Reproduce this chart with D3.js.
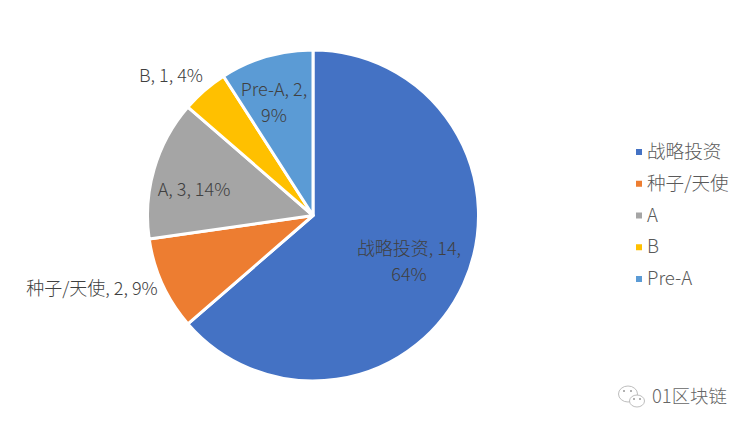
<!DOCTYPE html>
<html><head><meta charset="utf-8">
<script src="https://d3js.org/d3.v7.min.js"></script>
<style>html,body{margin:0;padding:0;background:#fff}svg{display:block}text{font-family:"Noto Sans CJK SC","Noto Sans",sans-serif;font-weight:300}</style>
</head><body><svg id="c" width="750" height="431"></svg>
<script>
const categories=["战略投资","种子/天使","A","B","Pre-A"];
const values=[14,2,3,1,2];
const percents=["64%","9%","14%","4%","9%"];
const colors=["#4472c4","#ed7d31","#a5a5a5","#ffc000","#5b9bd5"];
const svg=d3.select("#c");
const cx=313,cy=215.5,R=165.5;
const pie=d3.pie().sort(null).value(d=>d)(values);
const arc=d3.arc().innerRadius(0).outerRadius(R);
const g=svg.append("g").attr("transform",`translate(${cx},${cy})`);
g.selectAll("path").data(pie).join("path").attr("d",arc)
 .attr("fill",(d,i)=>colors[i]).attr("stroke","#fff").attr("stroke-width",3).attr("stroke-linejoin","round");
const labels=[[[409,250],[409,276]],[[92,290]],[[194,191]],[[171,77]],[[274,91],[274,117]]];
const lines=[[`${categories[0]}, ${values[0]},`,percents[0]],[`${categories[1]}, ${values[1]}, ${percents[1]}`],[`${categories[2]}, ${values[2]}, ${percents[2]}`],[`${categories[3]}, ${values[3]}, ${percents[3]}`],[`${categories[4]}, ${values[4]},`,percents[4]]];
lines.forEach((ls,i)=>ls.forEach((t,j)=>svg.append("text").attr("x",labels[i][j][0]).attr("y",labels[i][j][1]).attr("text-anchor","middle").attr("dominant-baseline","middle").attr("font-size",18).attr("fill","#404040").text(t)));
const ly=d3.scalePoint().domain(categories).range([153,280]);
categories.forEach((c,i)=>{
 svg.append("rect").attr("x",636).attr("y",ly(c)-4).attr("width",6).attr("height",6).attr("fill",colors[i]);
 svg.append("text").attr("x",647).attr("y",ly(c)).attr("dominant-baseline","middle").attr("font-size",18.6).attr("fill","#595959").text(c);
});
const wm=svg.append("g").attr("fill","#fff").attr("stroke","#b5b5b5").attr("stroke-width",0.9);
wm.append("ellipse").attr("cx",628).attr("cy",394).attr("rx",9.5).attr("ry",8);
wm.append("ellipse").attr("cx",637).attr("cy",401).attr("rx",7.5).attr("ry",6);
[[624,391],[631,391],[634,399],[640,399]].forEach(p=>svg.append("circle").attr("cx",p[0]).attr("cy",p[1]).attr("r",1).attr("fill","#999"));
svg.append("text").attr("x",652).attr("y",398).attr("dominant-baseline","middle").attr("font-size",18.4).attr("fill","#666").text("01区块链");
</script></body></html>
